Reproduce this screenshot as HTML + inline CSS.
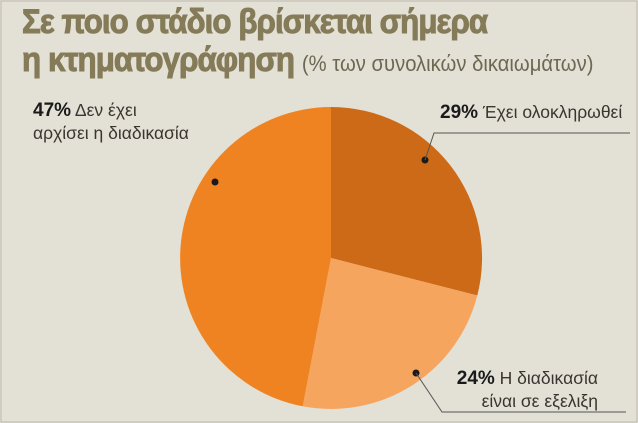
<!DOCTYPE html>
<html><head><meta charset="utf-8"><style>
body{margin:0;background:#e3e0d6;}
.w{position:relative;width:638px;height:423px;overflow:hidden;background:#e3e0d6;font-family:"Liberation Sans","DejaVu Sans",sans-serif;}
.t{position:absolute;left:22px;color:#857b58;font-weight:900;font-size:34px;letter-spacing:-1px;transform:scaleX(0.92);transform-origin:left;white-space:nowrap;-webkit-text-stroke:1px #857b58;}
.s{font-weight:normal;font-size:22px;letter-spacing:0;color:#6e6852;-webkit-text-stroke:0;}
.l{position:absolute;font-size:17.5px;color:#3a3530;line-height:22px;white-space:nowrap;}
.l b{font-size:19px;color:#1a1a1a;}
</style></head><body><div class="w">
<div class="t" style="top:3px">Σε ποιο στάδιο βρίσκεται σήμερα</div>
<div class="t" style="top:41px">η κτηματογράφηση <span class="s">(% των συνολικών δικαιωμάτων)</span></div>
<svg width="638" height="423" style="position:absolute;left:0;top:0">
<path d="M331,258 L331,107 A151,151 0 0 1 477.3,295.5 Z" fill="#cc6a17"/>
<path d="M331,258 L477.3,295.5 A151,151 0 0 1 302.7,406.3 Z" fill="#f6a55f"/>
<path d="M331,258 L302.7,406.3 A151,151 0 0 1 331,107 Z" fill="#f08321"/>
<circle cx="425" cy="160" r="3.5" fill="#1a1a1a"/>
<polyline points="425,160 434,133 630,133" fill="none" stroke="#555" stroke-width="1"/>
<circle cx="416" cy="373" r="3.5" fill="#1a1a1a"/>
<polyline points="416,373 442,412 626,412" fill="none" stroke="#555" stroke-width="1"/>
<circle cx="215" cy="182" r="3.5" fill="#1a1a1a"/>
<rect x="1" y="1" width="636" height="421" fill="none" stroke="#bdb9ae" stroke-width="1"/>
</svg>
<div class="l" style="left:33px;top:99px"><b>47%</b> Δεν έχει<br>αρχίσει η διαδικασία</div>
<div class="l" style="left:440px;top:101px"><b>29%</b> Έχει ολοκληρωθεί</div>
<div class="l" style="right:40px;top:367px;text-align:right"><b>24%</b> Η διαδικασία<br>είναι σε εξελιξη</div>
</div></body></html>
